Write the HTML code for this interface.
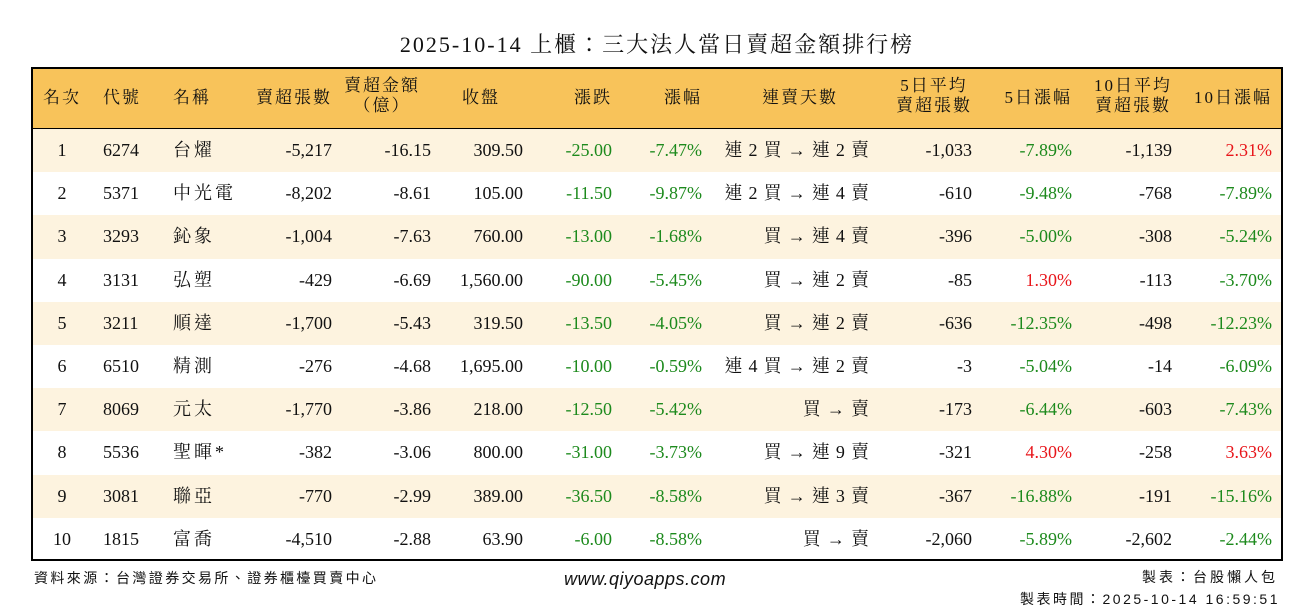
<!DOCTYPE html>
<html><head><meta charset="utf-8"><style>
body{margin:0;width:1314px;height:612px;background:#fff;position:relative;overflow:hidden;font-family:"Liberation Serif","Noto Serif CJK TC","Noto Serif CJK SC",serif;color:#111}
.title{position:absolute;top:28px;left:0;width:1314px;text-align:center;font-size:22px;letter-spacing:2px}
.tbl{position:absolute;left:31px;top:67px;width:1248px;height:490px;border:2px solid #000;z-index:5}
.hdr{position:absolute;left:33px;top:69px;width:1248px;height:59px;background:#f8c35a;border-bottom:2px solid #000}
.row{position:absolute;left:33px;width:1248px;height:43.2px}
.c{position:absolute;font-size:18px;white-space:nowrap}
.g{color:#1d8a1d}.r{color:#e8161b}
.k{letter-spacing:3px}
.h{font-size:17px;line-height:20px;letter-spacing:2px}
.foot{position:absolute;font-size:14px;font-family:"Liberation Sans","Noto Sans CJK TC",sans-serif;letter-spacing:1px}
</style></head><body>
<div class="title">2025-10-14 上櫃：三大法人當日賣超金額排行榜</div>
<div class="hdr"></div>
<div id="rows"></div>
<div class="tbl"></div>
<div class="foot" style="left:34px;top:568px;letter-spacing:2.4px">資料來源：台灣證券交易所、證券櫃檯買賣中心</div>
<div class="foot" style="left:564px;top:569px;font-size:18px;font-style:italic;letter-spacing:0.5px">www.qiyoapps.com</div>
<div class="foot" style="right:36px;top:567px;letter-spacing:3px">製表：台股懶人包</div>
<div class="foot" style="right:34px;top:589px;letter-spacing:2.5px">製表時間：2025-10-14 16:59:51</div>
<script>
const H=[["名次",62,"c"],["代號",103,"l"],["名稱",173,"l"],["賣超張數",332,"r"],["賣超金額<br>（億）",420,"r"],["收盤",500,"r"],["漲跌",612,"r"],["漲幅",702,"r"],["連賣天數",838,"r"],["5日平均<br>賣超張數",972,"r"],["5日漲幅",1072,"r"],["10日平均<br>賣超張數",1172,"r"],["10日漲幅",1272,"r"]];
const P=[62,103,173,332,431,523,612,702,869,972,1072,1172,1272];
const A=["c","l","l","r","r","r","r","r","r","r","r","r","r"];
const D=[
["1","6274","台燿","-5,217","-16.15","309.50","-25.00","-7.47%","連 2 買 → 連 2 賣","-1,033","-7.89%","-1,139","2.31%"],
["2","5371","中光電","-8,202","-8.61","105.00","-11.50","-9.87%","連 2 買 → 連 4 賣","-610","-9.48%","-768","-7.89%"],
["3","3293","鈊象","-1,004","-7.63","760.00","-13.00","-1.68%","買 → 連 4 賣","-396","-5.00%","-308","-5.24%"],
["4","3131","弘塑","-429","-6.69","1,560.00","-90.00","-5.45%","買 → 連 2 賣","-85","1.30%","-113","-3.70%"],
["5","3211","順達","-1,700","-5.43","319.50","-13.50","-4.05%","買 → 連 2 賣","-636","-12.35%","-498","-12.23%"],
["6","6510","精測","-276","-4.68","1,695.00","-10.00","-0.59%","連 4 買 → 連 2 賣","-3","-5.04%","-14","-6.09%"],
["7","8069","元太","-1,770","-3.86","218.00","-12.50","-5.42%","買 → 賣","-173","-6.44%","-603","-7.43%"],
["8","5536","聖暉*","-382","-3.06","800.00","-31.00","-3.73%","買 → 連 9 賣","-321","4.30%","-258","3.63%"],
["9","3081","聯亞","-770","-2.99","389.00","-36.50","-8.58%","買 → 連 3 賣","-367","-16.88%","-191","-15.16%"],
["10","1815","富喬","-4,510","-2.88","63.90","-6.00","-8.58%","買 → 賣","-2,060","-5.89%","-2,602","-2.44%"]];
function pos(x,a){return a=="c"?`left:${x-40}px;width:80px;text-align:center;`:a=="l"?`left:${x}px;`:`right:${1314-x}px;text-align:right;`}
let s="";
H.forEach(h=>{const two=h[0].includes("<br>");s+=`<div class="c h" style="${pos(h[1],h[2])}top:${two?76:88}px;${two?'text-align:center;':''}">${h[0]}</div>`;});
D.forEach((r,i)=>{const t=129+i*43.2;s+=`<div class="row" style="top:${t}px;background:${i%2==0?'#fdf3df':'#fff'}"></div>`;
r.forEach((v,j)=>{let cl="";if(j==6||j==7||j==10||j==12)cl=v.startsWith("-")?"g":"r";if(j==2)cl="k";
let ex=j==8?"letter-spacing:0.8px;margin-right:-0.8px;":"";
s+=`<div class="c ${cl}" style="${pos(P[j],A[j])}${ex}top:${t}px;line-height:43px">${v}</div>`;});});
document.getElementById("rows").innerHTML=s;
</script>
</body></html>
